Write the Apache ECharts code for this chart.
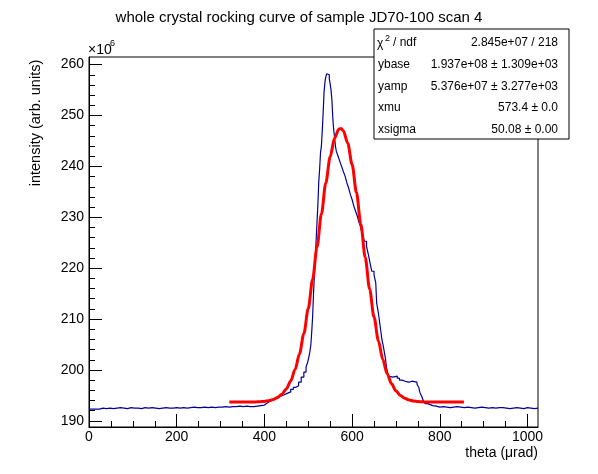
<!DOCTYPE html>
<html>
<head>
<meta charset="utf-8">
<script src="https://cdn.jsdelivr.net/npm/echarts@6/dist/echarts.min.js"></script>
<style>
html,body{margin:0;padding:0;background:#fff;}
#chart{width:598px;height:474px;}
</style>
</head>
<body>
<div id="chart"></div>
<script>
// ---- data (intensity in units of 1e6) ----
const theta = [0,8,16,24,32,40,48,56,64,72,80,88,96,104,112,120,128,136,144,152,160,168,176,184,192,200,208,216,224,232,240,248,256,264,272,280,288,296,304,312,320,328,336,344,352,360,368,376,384,392,400,405,410,415,420,428,436,444,452,460,466,472,478,484,490,495,499,503,506,508,510,512,514,516,518,520,522,524,526,528,530,532,534,536,538,540,542,544,546,548,550,552,554,556,558,560,562,564,568,572,576,580,584,588,592,596,600,604,608,612,615,618,621,624,628,633,637,641,645,650,654,656,660,664,668,672,676,679,683,688,693,698,703,708,713,718,724,730,736,742,748,752,755,759,763,767,772,778,784,792,800,808,816,824,832,840,848,856,864,872,880,888,896,904,912,920,928,936,944,952,960,968,976,984,992,1000,1008,1016,1024];
const intensity = [192.3,192.3,192.3,192.5,192.4,192.5,192.4,192.5,192.6,192.5,192.4,192.6,192.5,192.5,192.4,192.6,192.5,192.6,192.5,192.4,192.5,192.6,192.5,192.5,192.6,192.5,192.6,192.5,192.6,192.7,192.6,192.6,192.7,192.6,192.7,192.6,192.7,192.7,192.8,192.7,192.8,192.8,192.9,192.8,192.9,192.8,192.8,192.9,193.0,193.1,193.4,193.7,193.9,194.2,194.5,194.8,195.1,195.4,195.7,196.2,196.6,196.9,197.6,198.6,199.6,200.6,201.6,203.2,205.0,207.5,210.5,215.0,218.5,221.5,225.6,229.0,232.5,237.0,239.5,242.7,244.0,247.0,250.5,254.5,256.5,257.6,258.2,258.2,258.0,257.2,256.2,255.0,253.0,249.5,247.2,245.8,244.0,243.0,242.0,241.0,240.0,239.0,238.1,236.8,235.8,234.5,233.5,232.2,231.2,230.2,229.2,228.5,227.5,226.5,225.3,224.3,222.7,221.0,219.4,218.7,217.1,213.2,211.2,208.6,206.0,204.3,202.3,200.2,198.7,198.6,198.7,198.8,198.4,198.0,197.9,197.7,197.6,197.8,197.7,197.6,197.2,196.6,195.5,194.8,193.8,193.4,193.2,193.0,192.9,192.7,192.8,192.7,192.6,192.7,192.8,192.7,192.6,192.7,192.6,192.5,192.6,192.7,192.6,192.5,192.6,192.5,192.6,192.6,192.5,192.4,192.5,192.6,192.5,192.4,192.6,192.5,192.4,192.5,192.5];

const fitTheta = [320,330,340,350,360,370,380,390,400,410,420,430,440,450,460,470,480,490,500,510,520,530,540,550,560,570,575,580,590,600,610,620,630,640,650,660,670,680,690,700,710,720,730,740,750,760,770,780,790,800,810,820,830,840,850,855];
const fitValue = [193.70,193.70,193.70,193.70,193.71,193.71,193.73,193.77,193.83,193.96,194.19,194.59,195.25,196.28,197.84,200.08,203.15,207.13,212.06,217.82,224.15,230.63,236.74,241.90,245.57,247.34,247.45,247.00,244.58,240.39,234.86,228.57,222.09,215.90,210.39,205.75,202.06,199.28,197.28,195.90,195.00,194.44,194.10,193.91,193.81,193.75,193.72,193.71,193.70,193.70,193.70,193.70,193.70,193.70,193.70,193.70];

const xMajorTicks = [0,200,400,600,800,1000];
const xMinorTicks = [50,100,150,250,300,350,450,500,550,650,700,750,850,900,950];
const yMajorTicks = [190,200,210,220,230,240,250,260];
const yMinorTicks = [192,194,196,198,202,204,206,208,212,214,216,218,222,224,226,228,232,234,236,238,242,244,246,248,252,254,256,258];

const statLabels = ['ybase','yamp','xmu','xsigma'];
const statValues = ['1.937e+08 \u00b1 1.309e+03','5.376e+07 \u00b1 3.277e+03','573.4 \u00b1 0.0','50.08 \u00b1 0.00'];
const chiValue = '2.845e+07 / 218';

const FONT = '"Liberation Sans", Arial, Helvetica, sans-serif';
const X_MIN = 0, X_MAX = 1024, Y_MIN = 188.8, Y_MAX = 261.5;

const chart = echarts.init(document.getElementById('chart'), null, {renderer:'canvas'});

function txt(x, y, s, size, align) {
  return {type:'text', x:x, y:y, z:20, zlevel:0,
    style:{text:s, font:size + 'px ' + FONT, fill:'#000', textAlign:align || 'left', textVerticalAlign:'middle'}};
}

const statTexts = [
  txt(377, 44, '\u03c7', 12, 'left'),
  txt(385, 39, '2', 9, 'left'),
  txt(393, 43, '/ ndf', 12, 'left'),
  txt(558, 43, chiValue, 12, 'right')
];
const rowY = [65, 87, 108, 130];
statLabels.forEach((l, i) => {
  statTexts.push(txt(378, rowY[i], l, 12, 'left'));
  statTexts.push(txt(558, rowY[i], statValues[i], 12, 'right'));
});

const option = {
  animation: false,
  backgroundColor: '#fff',
  grid: {left: 89, right: 60, top: 57, bottom: 47, show: true, borderColor: '#000', borderWidth: 1, backgroundColor: 'transparent'},
  xAxis: [
    {type:'value', min:X_MIN, max:X_MAX, position:'bottom',
     axisLine:{show:true, lineStyle:{color:'#000', width:1}},
     axisTick:{show:true, inside:true, length:13, customValues:xMajorTicks, lineStyle:{color:'#000'}},
     axisLabel:{show:true, customValues:xMajorTicks, margin:3, color:'#000', fontSize:14, fontFamily:FONT, formatter:(v) => String(v)},
     splitLine:{show:false}},
    {type:'value', min:X_MIN, max:X_MAX, position:'bottom',
     axisLine:{show:false},
     axisTick:{show:true, inside:true, length:6, customValues:xMinorTicks, lineStyle:{color:'#000'}},
     axisLabel:{show:false}, splitLine:{show:false}}
  ],
  yAxis: [
    {type:'value', min:Y_MIN, max:Y_MAX, position:'left',
     axisLine:{show:true, lineStyle:{color:'#000', width:1}},
     axisTick:{show:true, inside:true, length:13, customValues:yMajorTicks, lineStyle:{color:'#000'}},
     axisLabel:{show:true, customValues:yMajorTicks, margin:5, color:'#000', fontSize:14, fontFamily:FONT, formatter:(v) => String(v)},
     splitLine:{show:false}},
    {type:'value', min:Y_MIN, max:Y_MAX, position:'left',
     axisLine:{show:false},
     axisTick:{show:true, inside:true, length:6, customValues:yMinorTicks, lineStyle:{color:'#000'}},
     axisLabel:{show:false}, splitLine:{show:false}}
  ],
  series: [
    {type:'line', name:'data', xAxisIndex:0, yAxisIndex:0, step:'end', showSymbol:false, symbol:'none',
     data: theta.map((t, i) => [t, intensity[i]]),
     lineStyle:{color:'#000099', width:1.2}, z:2},
    {type:'line', name:'fit', xAxisIndex:0, yAxisIndex:0, showSymbol:false, symbol:'none', smooth:0.3, smoothMonotone:'x',
     data: fitTheta.map((t, i) => [t, fitValue[i]]),
     lineStyle:{color:'#ff0000', width:3}, z:3}
  ],
  graphic: [
    txt(299, 18, 'whole crystal rocking curve of sample JD70-100 scan 4', 15, 'center'),
    Object.assign(txt(36, 123, 'intensity (arb. units)', 14.5, 'center'), {rotation: Math.PI / 2}),
    txt(538, 453, 'theta (\u03bcrad)', 14, 'right'),
    txt(88, 50, '\u00d710', 14, 'left'),
    txt(110, 44, '6', 9, 'left'),
    {type:'rect', z:10, shape:{x:374, y:29, width:195, height:110}, style:{fill:'#fff', stroke:'#000', lineWidth:1}}
  ].concat(statTexts)
};
chart.setOption(option);
</script>
</body>
</html>
